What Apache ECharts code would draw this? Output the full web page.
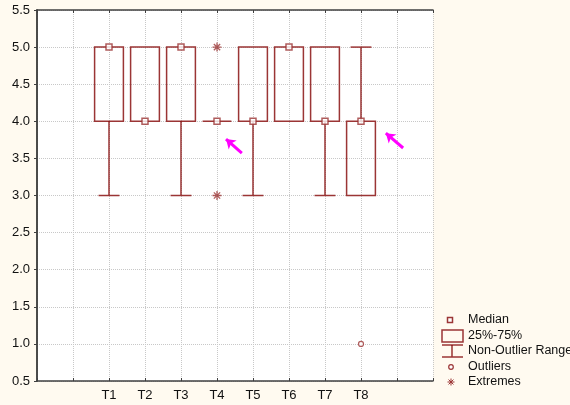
<!DOCTYPE html>
<html>
<head>
<meta charset="utf-8">
<script src="https://cdn.jsdelivr.net/npm/echarts@6/dist/echarts.min.js"></script>
<style>
  html, body { margin: 0; padding: 0; background: #fffaf0; }
  #chart { width: 570px; height: 405px; }
</style>
</head>
<body>
<div id="chart"></div>
<script>
// box plot data
var categories = ['T1', 'T2', 'T3', 'T4', 'T5', 'T6', 'T7', 'T8'];
var medians = [5, 4, 5, 4, 4, 5, 4, 4];
var q1 = [4, 4, 4, 4, 4, 4, 4, 3];
var q3 = [5, 5, 5, 4, 5, 5, 5, 4];
var whiskerLow = [3, 4, 3, 4, 3, 4, 3, 3];
var whiskerHigh = [5, 5, 5, 4, 5, 5, 5, 5];
var outliers = [[7, 1.0]];          // [category index, value]
var extremes = [[3, 5.0], [3, 3.0]];
var legendNames = ['Median', '25%-75%', 'Non-Outlier Range', 'Outliers', 'Extremes'];
// magenta annotation arrows: [tailX, tailY, headX, headY] in data units
var arrows = [[5.69, 3.57, 5.25, 3.76], [10.17, 3.64, 9.69, 3.84]];

var OFFSET = 2; // T1 sits at x = 2 on the 0..11 axis
var boxColor = '#9b3535';
var whiskerColor = '#800000';
var asterisk = 'path://M0,-1L0,1M-1,0L1,0M-0.7,-0.7L0.7,0.7M-0.7,0.7L0.7,-0.7';

var chart = echarts.init(document.getElementById('chart'));

var boxData = categories.map(function (c, i) {
  return [i + OFFSET, q1[i], q3[i], whiskerLow[i], whiskerHigh[i]];
});
var medianData = medians.map(function (v, i) { return [i + OFFSET, v]; });
var outlierData = outliers.map(function (o) { return [o[0] + OFFSET, o[1]]; });
var extremeData = extremes.map(function (o) { return [o[0] + OFFSET, o[1]]; });

function renderBox(params, api) {
  var x = api.value(0), lo = api.value(1), hi = api.value(2);
  var wl = api.value(3), wh = api.value(4);
  var tl = api.coord([x - 0.4, hi]);
  var br = api.coord([x + 0.4, lo]);
  var children = [{
    type: 'rect',
    shape: { x: tl[0], y: tl[1], width: br[0] - tl[0], height: br[1] - tl[1] },
    style: { fill: 'none', stroke: boxColor, lineWidth: 1.5 }
  }];
  function whisker(from, to) {
    var a = api.coord([x, from]), b = api.coord([x, to]);
    var c1 = api.coord([x - 0.29, to]), c2 = api.coord([x + 0.29, to]);
    children.push({ type: 'line', shape: { x1: a[0], y1: a[1], x2: b[0], y2: b[1] },
      style: { stroke: whiskerColor, lineWidth: 1.2 } });
    children.push({ type: 'line', shape: { x1: c1[0], y1: c1[1], x2: c2[0], y2: c2[1] },
      style: { stroke: boxColor, lineWidth: 1.5 } });
  }
  if (wl < lo) whisker(lo, wl);
  if (wh > hi) whisker(hi, wh);
  return { type: 'group', children: children };
}

// legend drawn by hand, the icons are not standard symbols
var lx = 442, ly = [320, 336, 351, 367, 382];
var legendGraphics = [
  { type: 'rect', shape: { x: 447.5, y: ly[0] - 2.5, width: 5, height: 5 },
    style: { fill: '#fff', stroke: boxColor, lineWidth: 1.5 } },
  { type: 'rect', shape: { x: lx, y: ly[1] - 6, width: 21, height: 12 },
    style: { fill: 'none', stroke: boxColor, lineWidth: 1.5 } },
  { type: 'polyline', shape: { points: [[lx, 345], [lx + 21, 345]] },
    style: { stroke: boxColor, lineWidth: 1.5 } },
  { type: 'polyline', shape: { points: [[452, 345], [452, 357]] },
    style: { stroke: whiskerColor, lineWidth: 1.2 } },
  { type: 'polyline', shape: { points: [[lx, 357], [lx + 21, 357]] },
    style: { stroke: boxColor, lineWidth: 1.5 } },
  { type: 'circle', shape: { cx: 451, cy: ly[3], r: 2.3 },
    style: { fill: '#fff', stroke: boxColor, lineWidth: 1.2 } }
];
[[-1, 0, 1, 0], [0, -1, 0, 1], [-0.7, -0.7, 0.7, 0.7], [-0.7, 0.7, 0.7, -0.7]].forEach(function (s) {
  legendGraphics.push({ type: 'line',
    shape: { x1: 451 + s[0] * 3.5, y1: ly[4] + s[1] * 3.5, x2: 451 + s[2] * 3.5, y2: ly[4] + s[3] * 3.5 },
    style: { stroke: boxColor, lineWidth: 1 } });
});
legendNames.forEach(function (n, i) {
  legendGraphics.push({ type: 'text', x: 468, y: ly[i],
    style: { text: n, fill: '#111', font: '12.5px "Liberation Sans", Arial, sans-serif', verticalAlign: 'middle' } });
});

var frameAxis = { show: true, lineStyle: { color: '#404040', width: 1.5 } };
var innerTick = { show: true, inside: true, length: 3, lineStyle: { color: '#404040' } };
var gridLine = { show: true, lineStyle: { color: '#c8c8c8', type: 'dotted', width: 1 } };

var option = {
  backgroundColor: '#fffaf0',
  animation: false,
  grid: { left: 37, top: 10, right: 137, bottom: 24, show: true, backgroundColor: '#fff', borderWidth: 0 },
  xAxis: [{
    type: 'value', min: 0, max: 11, interval: 1,
    axisLine: frameAxis,
    axisTick: innerTick,
    splitLine: gridLine,
    axisLabel: {
      color: '#111', fontSize: 13, margin: 8,
      fontFamily: '"Liberation Sans", Arial, sans-serif',
      formatter: function (v) { return categories[v - OFFSET] || ''; }
    }
  }, {
    type: 'value', position: 'top', min: 0, max: 11, interval: 1,
    axisLine: frameAxis,
    axisTick: innerTick,
    splitLine: { show: false }, axisLabel: { show: false }
  }],
  yAxis: [{
    type: 'value', min: 0.5, max: 5.5, interval: 0.5,
    axisLine: frameAxis,
    axisTick: { show: false },
    splitLine: gridLine,
    axisLabel: {
      color: '#111', fontSize: 13, margin: 7,
      fontFamily: '"Liberation Sans", Arial, sans-serif',
      formatter: function (v) { return v.toFixed(1); }
    }
  }, {
    type: 'value', position: 'right', min: 0.5, max: 5.5, interval: 0.5,
    axisLine: frameAxis,
    axisTick: innerTick,
    splitLine: { show: false }, axisLabel: { show: false }
  }],
  graphic: legendGraphics,
  series: [{
    type: 'custom', name: '25%-75%',
    renderItem: renderBox,
    encode: { x: 0, y: [1, 2, 3, 4] },
    data: boxData, z: 2,
    markLine: {
      silent: true, symbol: ['none', 'arrow'], symbolSize: [9, 9],
      lineStyle: { color: '#ff00ff', width: 3, type: 'solid' },
      label: { show: false },
      data: arrows.map(function (a) {
        return [{ coord: [a[0], a[1]] }, { coord: [a[2], a[3]] }];
      })
    }
  }, {
    type: 'scatter', name: 'Median', data: medianData, z: 5,
    symbol: 'rect', symbolSize: 6,
    itemStyle: { color: '#fff', borderColor: boxColor, borderWidth: 1.5 }
  }, {
    type: 'scatter', name: 'Outliers', data: outlierData, z: 5,
    symbol: 'circle', symbolSize: 5,
    itemStyle: { color: '#fff', borderColor: boxColor, borderWidth: 1.2 }
  }, {
    type: 'scatter', name: 'Extremes', data: extremeData, z: 5,
    symbol: asterisk, symbolSize: 9,
    itemStyle: { color: 'none', borderColor: boxColor, borderWidth: 1.3 }
  }]
};

chart.setOption(option);
</script>
</body>
</html>
